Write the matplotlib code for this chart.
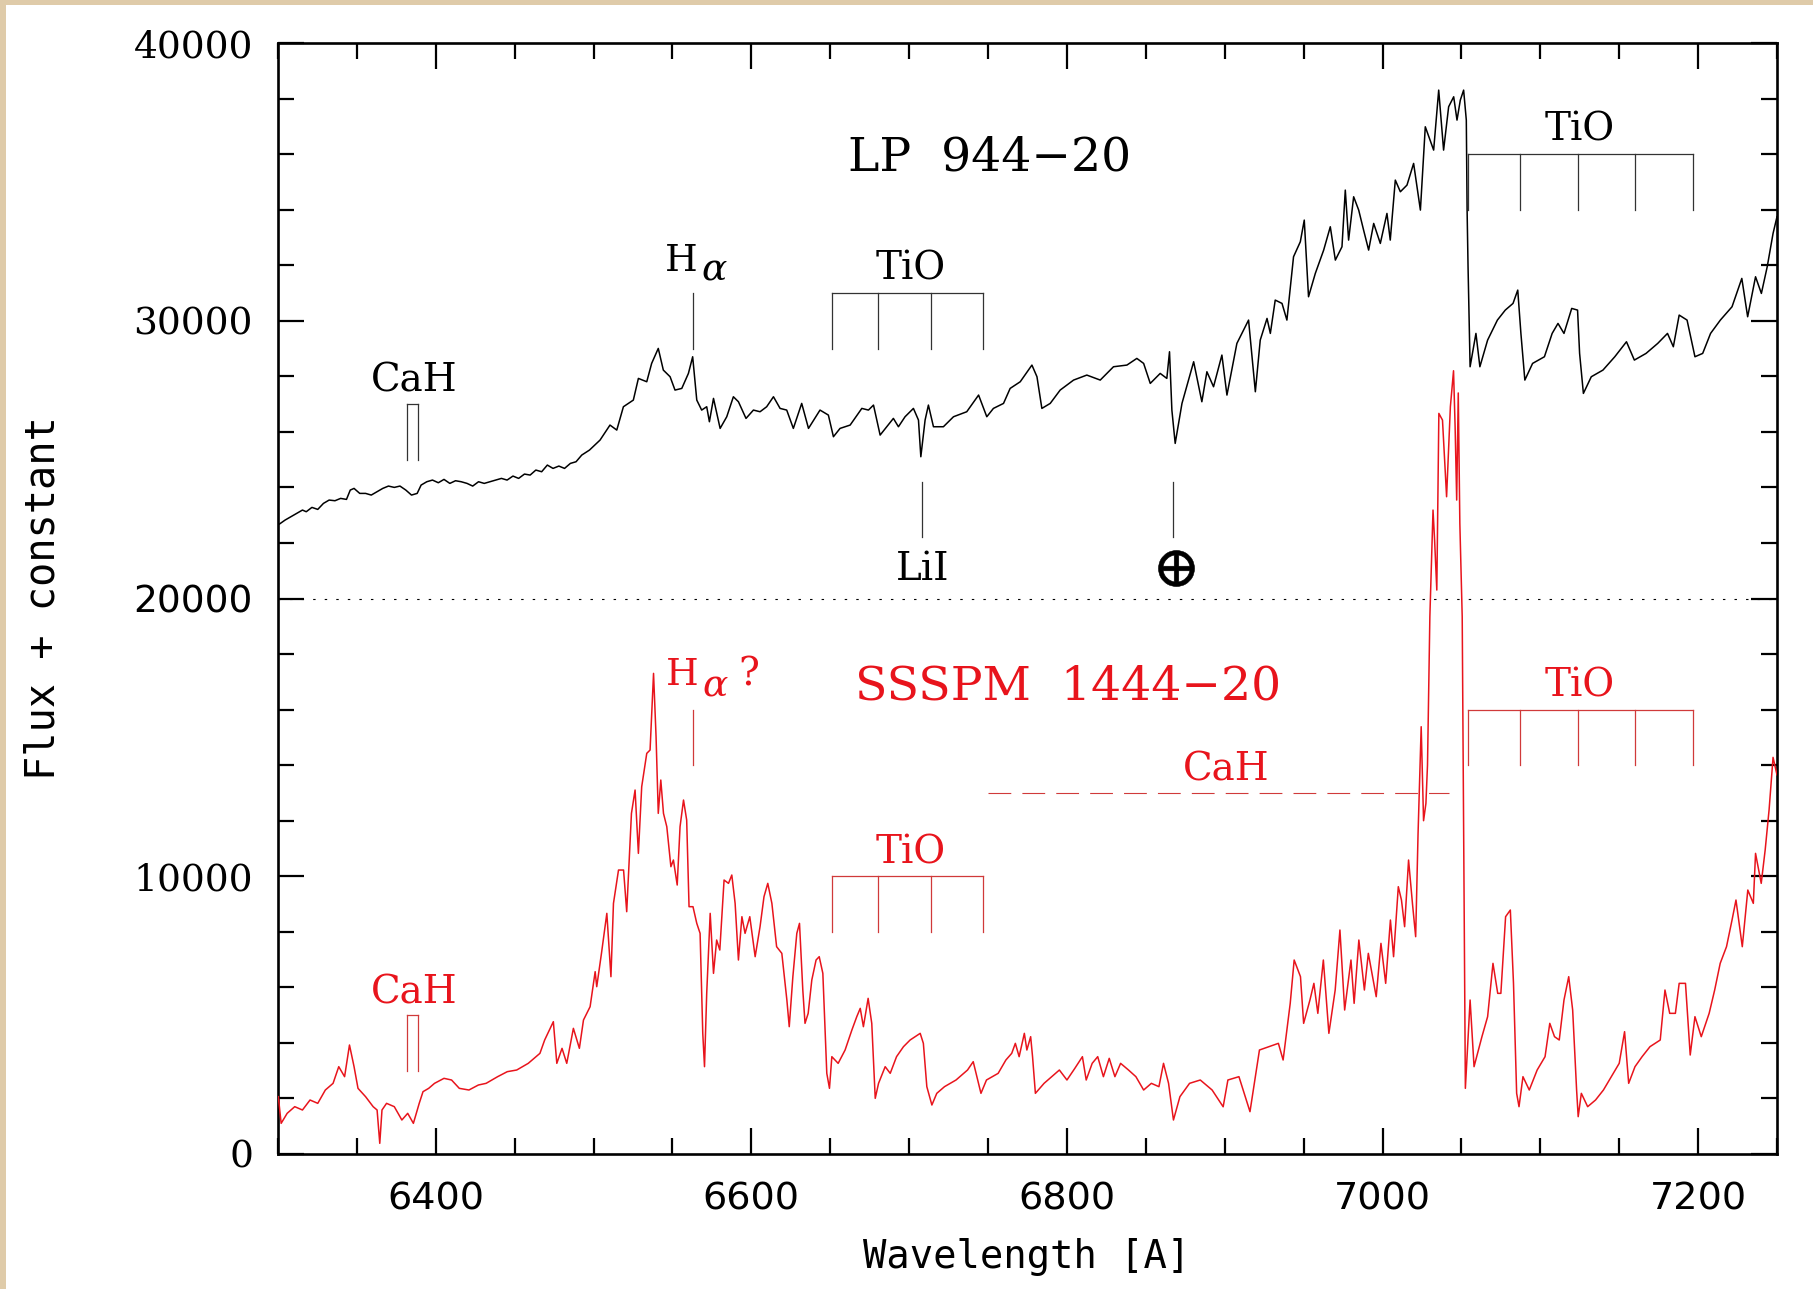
import matplotlib
matplotlib.use('Agg')
import matplotlib.pyplot as plt
from matplotlib.ticker import MultipleLocator
import matplotlib.patches as mpatches

plt.rcParams['mathtext.fontset'] = 'dejavuserif'

# ---------------- data ----------------
lp_wave = [6300.9, 6304.5, 6308.2, 6311.8, 6315.5, 6317.9, 6321.5, 6325.2, 6328.8, 6332.4,
           6336.1, 6339.7, 6343.4, 6345.8, 6348.2, 6351.8, 6355.5, 6359.1, 6362.8, 6366.4,
           6370.0, 6373.7, 6377.3, 6381.0, 6384.6, 6388.2, 6390.7, 6394.3, 6397.9, 6401.6,
           6405.2, 6408.9, 6412.5, 6416.1, 6419.8, 6423.4, 6427.1, 6430.7, 6434.3, 6438.0,
           6441.6, 6445.2, 6448.9, 6452.5, 6456.2, 6459.8, 6463.4, 6467.1, 6470.7, 6474.3,
           6478.0, 6481.6, 6485.3, 6488.9, 6492.5, 6497.4,
           6504.1, 6510.4, 6514.7,
           6518.9, 6525.2, 6528.4, 6533.7, 6536.8, 6541, 6544.2, 6548.5, 6551.6, 6555.9,
           6560.1, 6562.8, 6565.4, 6568.5, 6571.7, 6573.4, 6576, 6580.2, 6584.4, 6588.6,
           6591.8, 6596.6, 6601.3, 6605.5, 6609.7, 6614, 6618.2, 6622.4, 6626.6, 6631.9,
           6636.2, 6643.5, 6648.8, 6652, 6656.2, 6662.6, 6670, 6674.2, 6677.4, 6681.6,
           6685.8, 6690, 6693.2, 6697.4, 6702.7, 6705.9, 6707.4, 6708.6, 6710.1, 6712.2,
           6715.4, 6721.7, 6728.1, 6736.5, 6744, 6749.2, 6753.4, 6759.8, 6764, 6770.4,
           6777.8, 6781, 6784.1, 6789.4, 6795.7, 6804.2, 6812.6, 6821.1, 6829.5, 6838,
           6844.3, 6848.6, 6852.8, 6859.1, 6863.3, 6865, 6866.5, 6868.6, 6872.9, 6880.3,
           6885.5, 6888.7, 6892.9, 6898.2, 6901.4, 6907.7, 6915.1, 6919.4, 6922.5, 6926.8,
           6928.9, 6932, 6936.3, 6939.4, 6943.6, 6947.9, 6950.4, 6953.1, 6957.4, 6962.7,
           6966.9, 6970.1, 6974.3, 6976.4, 6978.5, 6981.7, 6984.9, 6988, 6991.2, 6994.4,
           6998.6, 7002.8, 7004.9, 7008.1, 7011.3, 7015.5, 7019.7, 7024, 7027.1, 7032.4,
           7035.6, 7038.7, 7041.9, 7045.1, 7047.2, 7049.3, 7051.4, 7053.1, 7053.6, 7054.2,
           7055.5, 7059.2, 7061.7, 7066.6, 7072.8, 7077.8, 7082.7, 7085.7, 7087.7, 7090.2,
           7095.1, 7102.6, 7107.5, 7111.2, 7115, 7119.9, 7123.6, 7124.9, 7127.3, 7132.3,
           7139.7, 7147.2, 7154.6, 7159.6, 7167, 7174.4, 7180.6, 7184.3, 7188, 7193,
           7198, 7202.9, 7207.9, 7214.1, 7221.5, 7227.7, 7231.4, 7236.4, 7240.1, 7243.8,
           7247.5, 7250]
lp_flux = [22680, 22824, 22944, 23064, 23184, 23124, 23280, 23208, 23424, 23544,
           23520, 23604, 23568, 23904, 23964, 23784, 23784, 23724, 23844, 23964,
           24048, 24000, 24048, 23904, 23724, 23784, 24084, 24204, 24264, 24168,
           24288, 24144, 24240, 24204, 24144, 24048, 24204, 24144, 24204, 24264,
           24324, 24264, 24408, 24324, 24480, 24444, 24624, 24564, 24804, 24684,
           24768, 24684, 24864, 24924, 25164, 25344,
           25704, 26244, 26064,
           26904, 27144, 27924, 27804, 28464, 29004, 28224, 27984, 27504, 27564,
           28104, 28704, 27144, 26784, 26904, 26364, 27204, 26124, 26544, 27264,
           27084, 26484, 26784, 26724, 26904, 27264, 26844, 26784, 26124, 27024,
           26124, 26784, 26604, 25824, 26124, 26244, 26844, 26784, 26964, 25884,
           26184, 26484, 26184, 26544, 26844, 26424, 25104, 25704, 26424, 26964,
           26184, 26184, 26544, 26724, 27324, 26544, 26844, 27024, 27564, 27804,
           28404, 27984, 26844, 27024, 27504, 27864, 28044, 27864, 28344, 28404,
           28644, 28464, 27744, 28104, 27924, 28884, 26784, 25584, 27024, 28524,
           27084, 28164, 27624, 28764, 27324, 29184, 30024, 27444, 29304, 30084,
           29544, 30744, 30624, 30024, 32304, 32844, 33624, 30864, 31704, 32544,
           33384, 32184, 32664, 34704, 32904, 34464, 33984, 33264, 32544, 33504,
           32784, 33864, 32904, 35064, 34644, 34884, 35664, 33984, 36984, 36144,
           38304, 36144, 37704, 38064, 37224, 37944, 38304, 37224, 33984, 31944,
           28344, 29544, 28344, 29304, 30024, 30384, 30624, 31104, 29544, 27864,
           28464, 28704, 29544, 29904, 29544, 30444, 30384, 28824, 27384, 27984,
           28224, 28704, 29244, 28584, 28824, 29184, 29544, 29064, 30204, 30024,
           28704, 28824, 29544, 30024, 30504, 31524, 30144, 31584, 30984, 31944,
           33144, 33744]

ss_wave = [6300.2, 6302, 6305.8, 6310.6, 6315.5, 6320.3, 6325.2, 6330, 6334.9, 6338.5,
           6342.2, 6345.3, 6348.2, 6350.7, 6355.5, 6360.3, 6362.8, 6364.5, 6365.9, 6368.8,
           6373.7, 6378.5, 6382.2, 6385.8, 6389.5, 6391.9, 6395.5, 6399.2, 6405.2, 6410,
           6414.9, 6421, 6427, 6431.9, 6439.2, 6445.3, 6451.3, 6458.6, 6466, 6469,
           6474.5, 6476.7, 6480, 6483, 6487.2, 6491, 6493.6, 6497.8, 6501, 6502,
           6505, 6508.4, 6511, 6512.6, 6515.8, 6519, 6521, 6524, 6526.3, 6528.4,
           6530.5, 6533.7, 6535.8, 6538, 6539.6, 6541, 6542.6, 6544.3, 6546.4, 6549,
           6550.6, 6553, 6554.8, 6557, 6559, 6560.5, 6563, 6565.4, 6567.5, 6569.2,
           6570.3, 6571.7, 6573.9, 6576, 6578, 6580, 6582.7, 6585.5, 6587.6, 6589.7,
           6591.8, 6594, 6596, 6599, 6602.4, 6605.5, 6608, 6610.4, 6613, 6616,
           6619.3, 6622.5, 6624, 6626.3, 6628.8, 6630.5, 6632.6, 6634, 6636, 6638.3,
           6641, 6643, 6645.3, 6647.8, 6649.5, 6651, 6655, 6659.4, 6663.7, 6666.8,
           6669, 6671, 6674, 6676.3, 6678.5, 6680.6, 6684.8, 6688, 6692, 6696.4,
           6700.6, 6707, 6709, 6711.2, 6714.4, 6717.5, 6722.4, 6729.7, 6737, 6740.6,
           6745.5, 6749, 6756.4, 6761.3, 6765, 6767.3, 6769.7, 6773, 6774.6, 6777,
           6778.2, 6780, 6785.5, 6790.4, 6795.2, 6800, 6805, 6809.8, 6812.2, 6816,
           6819.5, 6823.1, 6826.8, 6830.4, 6834, 6839, 6843.7, 6848.6, 6853.5, 6858.3,
           6861.2, 6864.4, 6867.5, 6871.6, 6877.7, 6884.5, 6892, 6899, 6902, 6909,
           6916, 6922, 6934, 6937, 6941.5, 6944, 6948, 6950, 6954, 6956.5,
           6959, 6962.5, 6966, 6970, 6973, 6976, 6980, 6982, 6985, 6988.5,
           6991, 6996, 6999, 7002, 7005, 7007, 7010, 7012, 7014, 7016.5,
           7019, 7021, 7022.5, 7024.5, 7026, 7027.5, 7028.5, 7030, 7032, 7033,
           7034.4, 7035.7, 7038, 7040.6, 7043, 7045, 7046, 7047, 7048, 7049,
           7050.5, 7051.5, 7052.5, 7055.5, 7058, 7063, 7066.6, 7070, 7073, 7075,
           7078, 7081, 7083, 7085, 7086.5, 7089, 7093, 7098, 7103, 7106,
           7109, 7112, 7115, 7118, 7120.5, 7123, 7124, 7126, 7130, 7135,
           7140, 7145, 7150, 7153.4, 7156, 7160, 7164.5, 7169.5, 7176, 7179,
           7182, 7185.6, 7188, 7192, 7195, 7198, 7202, 7207, 7210.5, 7214,
           7218, 7221.5, 7224, 7228, 7231.5, 7235, 7236.4, 7240, 7242.5, 7245,
           7247.5, 7250]
ss_flux = [2064, 1104, 1464, 1704, 1584, 1944, 1824, 2304, 2544, 3144,
           2784, 3924, 3144, 2364, 2064, 1704, 1584, 384, 1584, 1824,
           1704, 1224, 1464, 1104, 1824, 2244, 2364, 2544, 2724, 2664,
           2364, 2304, 2484, 2544, 2784, 2964, 3024, 3264, 3624, 4104,
           4764, 3264, 3804, 3264, 4524, 3804, 4824, 5304, 6564, 6024,
           7224, 8664, 6384, 9024, 10224, 10224, 8724, 12264, 13104, 10824,
           13224, 14424, 14544, 17304, 15024, 12264, 13464, 12264, 11784, 10344,
           10584, 9684, 11784, 12744, 12024, 8904, 8904, 8304, 7944, 4344,
           3144, 5784, 8664, 6504, 7704, 7344, 9864, 9744, 10044, 9024,
           6984, 8544, 7944, 8544, 7104, 8184, 9264, 9744, 9024, 7464,
           7224, 5544, 4584, 6384, 7944, 8304, 5904, 4704, 5064, 6264,
           6984, 7104, 6504, 2904, 2364, 3504, 3264, 3744, 4464, 4944,
           5244, 4584, 5604, 4704, 2004, 2544, 3144, 2904, 3504, 3864,
           4104, 4344, 3984, 2424, 1764, 2184, 2424, 2664, 3024, 3324,
           2184, 2664, 2904, 3384, 3624, 3984, 3504, 4344, 3744, 4224,
           3504, 2184, 2544, 2784, 3024, 2664, 3084, 3504, 2664, 3264,
           3504, 2784, 3444, 2784, 3264, 3024, 2784, 2304, 2544, 2424,
           3264, 2544, 1224, 2064, 2544, 2664, 2304, 1700, 2664, 2784,
           1524, 3744, 3984, 3384, 5424, 6984, 6384, 4704, 5544, 6144,
           5064, 6984, 4344, 5904, 8064, 5184, 6984, 5424, 7704, 5904,
           7224, 5664, 7584, 6144, 8424, 7104, 9624, 9144, 8184, 10584,
           9000, 7824, 11500, 15384, 12000, 12624, 14000, 19344, 23184, 22104,
           20304, 26664, 26424, 23664, 26904, 28200, 26184, 23544, 27400, 22704,
           19344, 10944, 2364, 5544, 3144, 4224, 4944, 6864, 5784, 5784,
           8544, 8784, 6144, 2184, 1704, 2784, 2304, 3024, 3504, 4704,
           4224, 4104, 5544, 6384, 5184, 2304, 1344, 2184, 1704, 1944,
           2304, 2784, 3264, 4404, 2544, 3144, 3504, 3864, 4104, 5904,
           5064, 5064, 6144, 6144, 3564, 4944, 4224, 5064, 5904, 6864,
           7464, 8424, 9144, 7464, 9504, 9024, 10824, 9744, 10944, 12400,
           14280, 13650]

x_ticks = [6400, 6600, 6800, 7000, 7200]
y_ticks = [0, 10000, 20000, 30000, 40000]
y_tick_labels = ['0', '10000', '20000', '30000', '40000']

# feature markers (wavelengths in Angstrom)
tio_blue = [6651, 6680, 6714, 6747]
tio_red = [7054, 7087, 7124, 7160, 7197]
cah_pair = [6382, 6389]
halpha = 6563
li_line = 6708
telluric = 6867
cah_band = [6750, 7042]

BLACK = 'black'
RED = '#e8141c'
RED_ANN = '#d03a3a'
GREY_ANN = '#333333'
SERIF = 'DejaVu Serif'

fig = plt.figure(figsize=(18.13, 12.89), dpi=100)
fig.patch.set_facecolor('white')
beige = '#dfcba9'
fig.add_artist(mpatches.Rectangle((0, 1 - 5 / 1289), 1, 5 / 1289, transform=fig.transFigure,
                                  facecolor=beige, edgecolor='none', zorder=0))
fig.add_artist(mpatches.Rectangle((0, 0), 6 / 1813, 1, transform=fig.transFigure,
                                  facecolor=beige, edgecolor='none', zorder=0))

ax = fig.add_axes([278 / 1813, 135 / 1289, 1499 / 1813, 1111 / 1289])
ax.set_xlim(6300, 7250)
ax.set_ylim(0, 40000)

ax.plot(lp_wave, lp_flux, color=BLACK, lw=1.1, zorder=3)
ax.plot(ss_wave, ss_flux, color=RED, lw=1.1, zorder=3)

ax.axhline(20000, color='black', lw=0.8, ls=(0, (2.2, 8.2)), zorder=2)


def bracket(xs, top, bottom, color):
    ax.plot([xs[0], xs[-1]], [top, top], color=color, lw=0.9, zorder=2)
    for x in xs:
        ax.plot([x, x], [bottom, top], color=color, lw=0.9, zorder=2)


def tick_line(x, bottom, top, color):
    ax.plot([x, x], [bottom, top], color=color, lw=0.9, zorder=2)


def label(x, y, s, color, size=28, ha='center', **kw):
    ax.text(x, y, s, color=color, fontsize=size, ha=ha, va='baseline',
            family=SERIF, zorder=4, **kw)


# ---- black (LP 944-20) annotations ----
label(6751, 35400, 'LP  944\u221220', BLACK, size=34)
bracket(tio_blue, 31000, 29000, GREY_ANN)
label(6701, 31470, 'TiO', BLACK)
bracket(tio_red, 36000, 34000, GREY_ANN)
label(7125, 36500, 'TiO', BLACK)
bracket(cah_pair, 27000, 25000, GREY_ANN)
label(6386, 27450, 'CaH', BLACK)
tick_line(halpha, 29000, 31000, GREY_ANN)
label(6555.5, 31800, 'H', BLACK, size=27)
label(6568.5, 31450, '\u03b1', BLACK, size=27, ha='left', style='italic')
tick_line(li_line, 22200, 24200, GREY_ANN)
label(6708.5, 20660, 'LiI', BLACK)
tick_line(telluric, 22200, 24200, GREY_ANN)
ax.plot([6869], [21090], marker=r'$\oplus$', ms=26, color='black', mew=0.4, zorder=4)

# ---- red (SSSPM 1444-20) annotations ----
label(6801, 16350, 'SSSPM  1444\u221220', RED, size=34)
bracket(tio_blue, 10000, 8000, RED_ANN)
label(6701, 10470, 'TiO', RED)
bracket(tio_red, 16000, 14000, RED_ANN)
label(7125, 16470, 'TiO', RED)
bracket(cah_pair, 5000, 3000, RED_ANN)
label(6386, 5420, 'CaH', RED)
tick_line(halpha, 14000, 16000, RED_ANN)
label(6556, 16880, 'H', RED, size=27)
label(6569, 16460, '\u03b1', RED, size=27, ha='left', style='italic')
label(6591.5, 16880, '?', RED, size=28, ha='left')
ax.plot(cah_band, [13000, 13000], color=RED_ANN, lw=0.8, ls=(0, (20.5, 10)), zorder=2)
label(6901, 13450, 'CaH', RED)

# ---- axes styling ----
for sp in ax.spines.values():
    sp.set_linewidth(1.9)
ax.xaxis.set_major_locator(MultipleLocator(200))
ax.xaxis.set_minor_locator(MultipleLocator(50))
ax.set_yticks(y_ticks)
ax.yaxis.set_minor_locator(MultipleLocator(2000))
ax.set_xticks(x_ticks)
ax.set_xticklabels([str(v) for v in x_ticks])
ax.set_yticklabels(y_tick_labels)
ax.tick_params(which='both', direction='in', top=True, right=True, width=1.6, color='black')
ax.tick_params(which='major', length=19)
ax.tick_params(which='minor', length=11.5)
ax.tick_params(axis='x', which='major', pad=20, labelsize=27.5)
ax.tick_params(axis='y', which='major', pad=18, labelsize=27)
for t in ax.get_xticklabels():
    t.set_family('DejaVu Sans')
for t in ax.get_yticklabels():
    t.set_family('DejaVu Sans' if t.get_text() == '20000' else SERIF)

fig.text(1027 / 1813, 1 - 1257 / 1289, 'Wavelength [A]', ha='center', va='center',
         fontsize=28, family='DejaVu Sans Mono')
fig.text(44 / 1813, 1 - 598 / 1289, 'Flux + constant', ha='center', va='center',
         rotation=90, fontsize=29, family='DejaVu Sans Mono')

fig.savefig('out.png', dpi=100, facecolor='white')
